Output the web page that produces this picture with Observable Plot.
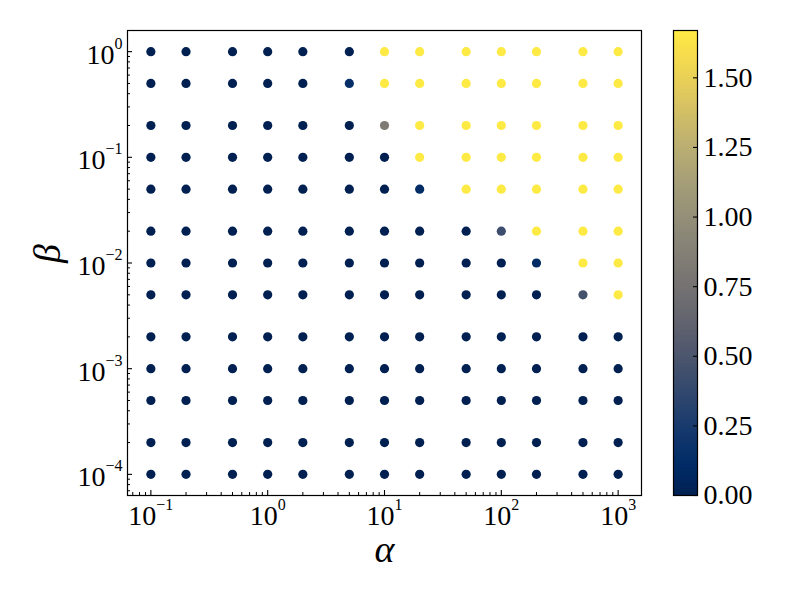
<!DOCTYPE html>
<html>
<head>
<meta charset="utf-8">
<script src="https://cdn.jsdelivr.net/npm/d3@7"></script>
<script src="https://cdn.jsdelivr.net/npm/@observablehq/plot@0.6"></script>
<style>
  html, body { margin: 0; padding: 0; background: white; }
  #wrap { position: relative; width: 800px; height: 600px; overflow: hidden; background: white; }
  #main { position: absolute; left: 0; top: 0; }
  #cbar { position: absolute; left: 673px; top: 0; }
  #wrap text { font-family: "Liberation Serif", "Times New Roman", serif !important; font-variant: normal !important; }
</style>
</head>
<body>
<div id="wrap"><div id="main"></div><div id="cbar"></div></div>
<script>
// ---- data ----
const alphaValues = [0.1, 0.2, 0.5, 1, 2, 5, 10, 20, 50, 100, 200, 500, 1000];
const betaValues = [1, 0.5, 0.2, 0.1, 0.05, 0.02, 0.01, 0.005, 0.002, 0.001, 0.0005, 0.0002, 0.0001];
// one row per beta (same order as betaValues), one column per alpha
const zRow_1e0   = [0, 0, 0, 0, 0, 0,    1.67, 1.67, 1.67, 1.67, 1.67, 1.67, 1.67];
const zRow_5e_1  = [0, 0, 0, 0, 0, 0.14, 1.67, 1.67, 1.67, 1.67, 1.67, 1.67, 1.67];
const zRow_2e_1  = [0, 0, 0, 0, 0, 0,    0.83, 1.67, 1.67, 1.67, 1.67, 1.67, 1.67];
const zRow_1e_1  = [0, 0, 0, 0, 0, 0,    0,    1.67, 1.67, 1.67, 1.67, 1.67, 1.67];
const zRow_5e_2  = [0, 0, 0, 0, 0, 0,    0,    0.11, 1.67, 1.67, 1.67, 1.67, 1.67];
const zRow_2e_2  = [0, 0, 0, 0, 0, 0,    0,    0,    0,    0.42, 1.67, 1.67, 1.67];
const zRow_1e_2  = [0, 0, 0, 0, 0, 0,    0,    0,    0,    0,    0.10, 1.67, 1.67];
const zRow_5e_3  = [0, 0, 0, 0, 0, 0,    0,    0,    0,    0,    0,    0.45, 1.67];
const zRow_2e_3  = [0, 0, 0, 0, 0, 0,    0,    0,    0,    0,    0,    0,    0];
const zRow_1e_3  = [0, 0, 0, 0, 0, 0,    0,    0,    0,    0,    0,    0,    0];
const zRow_5e_4  = [0, 0, 0, 0, 0, 0,    0,    0,    0,    0,    0,    0,    0];
const zRow_2e_4  = [0, 0, 0, 0, 0, 0,    0,    0,    0,    0,    0,    0,    0];
const zRow_1e_4  = [0, 0, 0, 0, 0, 0,    0,    0,    0,    0,    0,    0,    0];
const zRows = [zRow_1e0, zRow_5e_1, zRow_2e_1, zRow_1e_1, zRow_5e_2, zRow_2e_2, zRow_1e_2,
               zRow_5e_3, zRow_2e_3, zRow_1e_3, zRow_5e_4, zRow_2e_4, zRow_1e_4];
const colorMax = 1.67;
const xMajorTicks = [0.1, 1, 10, 100, 1000];
const yMajorTicks = [0.0001, 0.001, 0.01, 0.1, 1];
const cbarTicks = [0, 0.25, 0.5, 0.75, 1.0, 1.25, 1.5];

const points = [];
betaValues.forEach((b, i) => alphaValues.forEach((a, j) => points.push({alpha: a, beta: b, z: zRows[i][j]})));

const xDomain = [Math.pow(10, -1.2), Math.pow(10, 3.2)];
const yDomain = [Math.pow(10, -4.2), Math.pow(10, 0.2)];
function minorTicks(domain) {
  const out = [];
  for (let k = -6; k <= 4; k++) for (let m = 2; m <= 9; m++) {
    const v = m * Math.pow(10, k);
    if (v >= domain[0] && v <= domain[1]) out.push(v);
  }
  return out;
}
const xMinor = minorTicks(xDomain);
const yMinor = minorTicks(yDomain);
const expFmt = d => "10^" + Math.round(Math.log10(d));

const font = "Liberation Serif, Times New Roman, serif";

const main = Plot.plot({
  width: 800, height: 600,
  marginLeft: 127, marginRight: 159, marginTop: 30, marginBottom: 105,
  style: {fontFamily: font, fontSize: "28px", color: "black", background: "white", overflow: "visible"},
  x: {type: "log", domain: xDomain, axis: null},
  y: {type: "log", domain: yDomain, axis: null},
  color: {type: "linear", scheme: "cividis", domain: [0, colorMax]},
  marks: [
    Plot.dot(points, {x: "alpha", y: "beta", fill: "z", r: 4.6}),
    // ticks (inward)
    Plot.axisX({ticks: xMajorTicks, tickSize: -5, tickFormat: () => "", label: null, strokeWidth: 1.1}),
    Plot.axisX({ticks: xMinor, tickSize: -3, tickFormat: () => "", label: null, strokeWidth: 1}),
    Plot.axisY({ticks: yMajorTicks, tickSize: -5, tickFormat: () => "", label: null, strokeWidth: 1.1}),
    Plot.axisY({ticks: yMinor, tickSize: -3, tickFormat: () => "", label: null, strokeWidth: 1}),
    // tick labels
    Plot.axisX({ticks: xMajorTicks, tickSize: 0, tickPadding: 10, tickFormat: expFmt, label: null, fontSize: 28}),
    Plot.axisY({ticks: yMajorTicks, tickSize: 0, tickPadding: 5, dy: 3, tickFormat: expFmt, label: null, fontSize: 28}),
    Plot.frame({stroke: "black", strokeWidth: 1.2}),
    Plot.text(["α"], {frameAnchor: "bottom", text: d => d, lineAnchor: "bottom", dy: 66, fontSize: 38, fontStyle: "italic"}),
    Plot.text(["β"], {frameAnchor: "left", text: d => d, lineAnchor: "bottom", rotate: -90, dx: -68, fontSize: 38, fontStyle: "italic"})
  ]
});

// superscript exponents
main.querySelectorAll("text").forEach(el => {
  const t = el.textContent;
  if (/^10\^-?\d+$/.test(t)) {
    const exp = t.split("^")[1].replace("-", "\u2212");
    el.textContent = "10";
    const ts = document.createElementNS("http://www.w3.org/2000/svg", "tspan");
    ts.setAttribute("dy", "-15");
    ts.setAttribute("font-size", "16");
    ts.textContent = exp;
    el.appendChild(ts);
  }
});
document.getElementById("main").appendChild(main);

// ---- colorbar ----
const N = 200;
const step = colorMax / N;
const strips = d3.range(N).map(i => i * step);
const cbar = Plot.plot({
  width: 127, height: 600,
  marginLeft: 0, marginRight: 103, marginTop: 30, marginBottom: 105,
  style: {fontFamily: font, fontSize: "28px", color: "black", background: "white", overflow: "visible"},
  x: {domain: [0, 1], axis: null},
  y: {domain: [0, colorMax], axis: null},
  color: {type: "linear", scheme: "cividis", domain: [0, colorMax]},
  marks: [
    Plot.rect(strips, {x1: 0, x2: 1, y1: d => d, y2: d => Math.min(colorMax, d + step * 1.6), fill: d => d + step / 2}),
    Plot.axisY({anchor: "right", ticks: cbarTicks, tickSize: -5, tickFormat: () => "", label: null, strokeWidth: 1.1}),
    Plot.axisY({anchor: "right", ticks: cbarTicks, tickSize: 0, tickPadding: 6, tickFormat: d3.format(".2f"), label: null, fontSize: 28}),
    Plot.frame({stroke: "black", strokeWidth: 1.2})
  ]
});
document.getElementById("cbar").appendChild(cbar);
</script>
</body>
</html>
